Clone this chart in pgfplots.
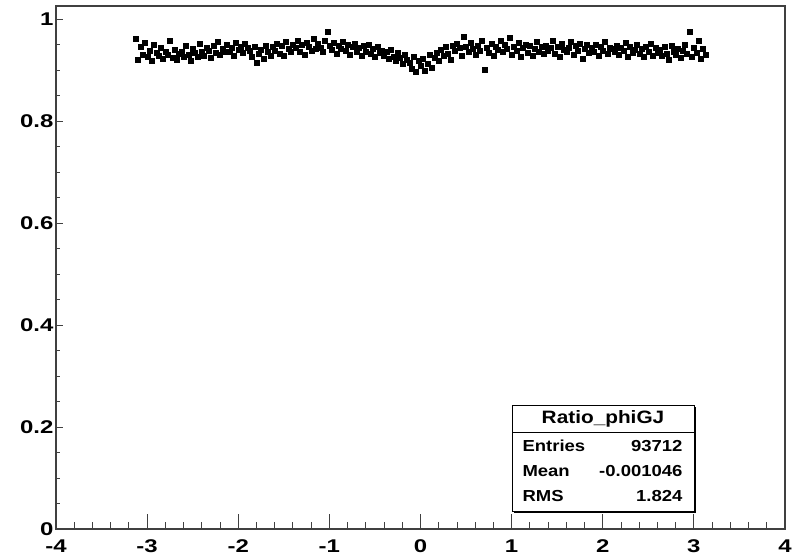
\documentclass[border=0pt]{standalone}
\usepackage{pgfplots}
\pgfplotsset{compat=1.18}
\usepackage{fontspec}
\setmainfont{Liberation Sans}
\newfontfamily\tickfont[FakeStretch=1.3]{Liberation Sans}
\newfontfamily\statfont[FakeStretch=1.16]{Liberation Sans}

% ratio per bin
\pgfplotstableread{
x y
-3.125 0.962
-3.100 0.921
-3.075 0.945
-3.050 0.930
-3.025 0.953
-3.000 0.927
-2.975 0.938
-2.950 0.918
-2.925 0.950
-2.900 0.935
-2.875 0.928
-2.850 0.944
-2.825 0.922
-2.800 0.936
-2.775 0.931
-2.750 0.958
-2.725 0.925
-2.700 0.940
-2.675 0.920
-2.650 0.933
-2.625 0.937
-2.600 0.926
-2.575 0.948
-2.550 0.930
-2.525 0.919
-2.500 0.941
-2.475 0.934
-2.450 0.927
-2.425 0.952
-2.400 0.936
-2.375 0.929
-2.350 0.943
-2.325 0.938
-2.300 0.924
-2.275 0.947
-2.250 0.935
-2.225 0.955
-2.200 0.931
-2.175 0.942
-2.150 0.937
-2.125 0.949
-2.100 0.936
-2.075 0.944
-2.050 0.928
-2.025 0.953
-2.000 0.940
-1.975 0.946
-1.950 0.934
-1.925 0.951
-1.900 0.943
-1.875 0.938
-1.850 0.926
-1.825 0.945
-1.800 0.915
-1.775 0.932
-1.750 0.940
-1.725 0.922
-1.700 0.948
-1.675 0.936
-1.650 0.929
-1.625 0.945
-1.600 0.939
-1.575 0.952
-1.550 0.933
-1.525 0.947
-1.500 0.928
-1.475 0.956
-1.450 0.941
-1.425 0.936
-1.400 0.950
-1.375 0.944
-1.350 0.958
-1.325 0.937
-1.300 0.949
-1.275 0.930
-1.250 0.953
-1.225 0.946
-1.200 0.939
-1.175 0.961
-1.150 0.942
-1.125 0.951
-1.100 0.944
-1.075 0.936
-1.050 0.957
-1.025 0.976
-1.000 0.947
-0.975 0.940
-0.950 0.953
-0.925 0.933
-0.900 0.948
-0.875 0.942
-0.850 0.955
-0.825 0.938
-0.800 0.949
-0.775 0.931
-0.750 0.945
-0.725 0.952
-0.700 0.936
-0.675 0.943
-0.650 0.928
-0.625 0.947
-0.600 0.937
-0.575 0.950
-0.550 0.932
-0.525 0.941
-0.500 0.926
-0.475 0.945
-0.450 0.935
-0.425 0.939
-0.400 0.929
-0.375 0.936
-0.350 0.922
-0.325 0.940
-0.300 0.927
-0.275 0.918
-0.250 0.934
-0.225 0.925
-0.200 0.912
-0.175 0.930
-0.150 0.921
-0.125 0.915
-0.100 0.902
-0.075 0.926
-0.050 0.897
-0.025 0.919
0.000 0.908
0.025 0.923
0.050 0.899
0.075 0.913
0.100 0.930
0.125 0.905
0.150 0.925
0.175 0.935
0.200 0.918
0.225 0.940
0.250 0.928
0.275 0.946
0.300 0.933
0.325 0.920
0.350 0.948
0.375 0.938
0.400 0.952
0.425 0.943
0.450 0.929
0.475 0.966
0.500 0.945
0.525 0.936
0.550 0.954
0.575 0.941
0.600 0.931
0.625 0.947
0.650 0.939
0.675 0.957
0.700 0.901
0.725 0.944
0.750 0.935
0.775 0.951
0.800 0.928
0.825 0.946
0.850 0.940
0.875 0.958
0.900 0.936
0.925 0.949
0.950 0.942
0.975 0.963
1.000 0.931
1.025 0.945
1.050 0.938
1.075 0.953
1.100 0.927
1.125 0.944
1.150 0.950
1.175 0.935
1.200 0.947
1.225 0.929
1.250 0.941
1.275 0.955
1.300 0.937
1.325 0.946
1.350 0.932
1.375 0.948
1.400 0.939
1.425 0.943
1.450 0.958
1.475 0.933
1.500 0.945
1.525 0.927
1.550 0.951
1.575 0.940
1.600 0.936
1.625 0.944
1.650 0.956
1.675 0.931
1.700 0.947
1.725 0.938
1.750 0.952
1.775 0.922
1.800 0.941
1.825 0.949
1.850 0.934
1.875 0.943
1.900 0.937
1.925 0.950
1.950 0.929
1.975 0.946
2.000 0.939
2.025 0.955
2.050 0.933
2.075 0.944
2.100 0.941
2.125 0.936
2.150 0.948
2.175 0.930
2.200 0.943
2.225 0.938
2.250 0.953
2.275 0.927
2.300 0.945
2.325 0.934
2.350 0.940
2.375 0.949
2.400 0.932
2.425 0.941
2.450 0.926
2.475 0.946
2.500 0.937
2.525 0.952
2.550 0.929
2.575 0.943
2.600 0.935
2.625 0.940
2.650 0.928
2.675 0.945
2.700 0.933
2.725 0.921
2.750 0.947
2.775 0.936
2.800 0.930
2.825 0.942
2.850 0.925
2.875 0.938
2.900 0.950
2.925 0.932
2.950 0.975
2.975 0.927
3.000 0.944
3.025 0.935
3.050 0.958
3.075 0.923
3.100 0.941
3.125 0.930
}\ratio

\begin{document}
\begin{tikzpicture}
\begin{axis}[
  name=ax,
  at={(0,0)}, anchor=south west,
  width=729bp, height=523bp, scale only axis,
  xmin=-4, xmax=4, ymin=0, ymax=1.0255,
  xtick={-4,-3,-2,-1,0,1,2,3,4},
  ytick={0,0.2,0.4,0.6,0.8,1},
  minor x tick num=4, minor y tick num=3,
  tick align=inside, tick pos=left,
  major tick length=7.5bp, minor tick length=4bp,
  major x tick style={/pgfplots/major tick length=15bp},
  minor x tick style={/pgfplots/minor tick length=7.5bp},
  axis line style={black!75, line width=1.2bp},
  every tick/.style={black!75, line width=0.9bp},
  /pgf/number format/assume math mode=true,
  tick label style={font=\fontsize{18.5}{20}\tickfont\bfseries},
  xticklabel style={yshift=-7bp},
  yticklabel style={xshift=1bp},
]
\addplot[only marks, mark=square*, mark size=2.5bp,
  mark options={draw=black, fill=black, line width=0.2bp}] table[x=x, y=y] {\ratio};
\end{axis}

% stats box
\begin{scope}[shift={(ax.south west)}, x=1bp, y=1bp]
\fill[black] (458,16) rectangle (640,122);
\draw[fill=white, line width=1bp] (456,18) rectangle (638,124);
\draw[line width=1bp] (456,97) -- (638,97);
\node[font=\fontsize{18}{20}\statfont\bfseries] at (547,110) {Ratio\_phiGJ};
\begin{scope}[every node/.style={font=\fontsize{16}{18}\statfont\bfseries}]
\node[anchor=west] at (463,83) {Entries};
\node[anchor=east] at (630,83) {93712};
\node[anchor=west] at (463,58) {Mean};
\node[anchor=east] at (630,58) {-0.001046};
\node[anchor=west] at (463,33) {RMS};
\node[anchor=east] at (630,33) {1.824};
\end{scope}
\end{scope}

\pgfresetboundingbox
\path[use as bounding box] ([shift={(-56bp,-30bp)}]ax.south west) rectangle ([shift={(7bp,6bp)}]ax.north east);
\end{tikzpicture}
\end{document}
